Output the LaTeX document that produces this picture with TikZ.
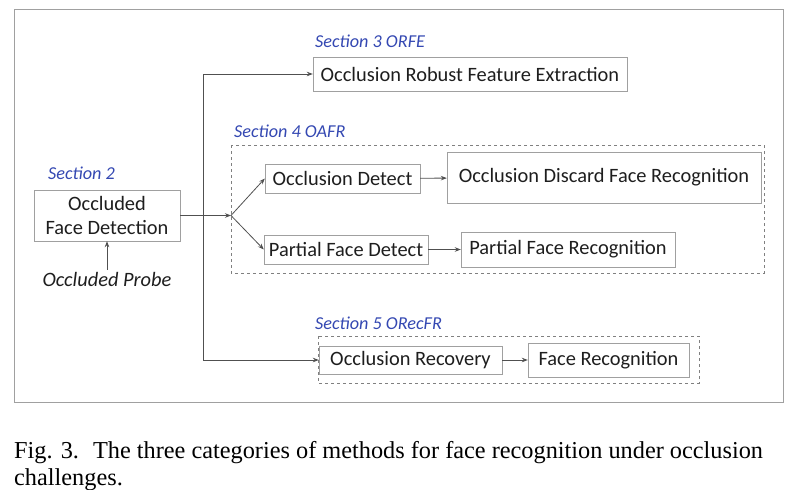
\documentclass[tikz,border=0pt]{standalone}
\usepackage{fontspec}
\setmainfont{Carlito}
\newfontfamily\capfont{Liberation Serif}
\usepackage{tikz}
\usetikzlibrary{arrows.meta}
\definecolor{secblue}{RGB}{52, 72, 178}
\definecolor{boxgray}{RGB}{160, 160, 160}
\definecolor{linegray}{RGB}{80, 80, 80}
\definecolor{txtgray}{RGB}{30, 30, 30}

\begin{document}
\begin{tikzpicture}[x=1pt,y=-1pt,
  >={Stealth[length=6pt,width=4.5pt]},
  procbox/.style={draw=boxgray,fill=white,rectangle,inner sep=0pt,text=txtgray,
    font=\fontsize{20.4}{24}\selectfont},
  seclabel/.style={anchor=west,inner sep=0pt,text=secblue,
    font=\itshape\fontsize{18.2}{21}\selectfont},
  groupbox/.style={draw=boxgray!80!black,dashed,thick},
  conn/.style={draw=linegray,thick,->}]
\useasboundingbox (0,0) rectangle (788,490);

% Outer frame
\draw[boxgray,thick] (14,9) rectangle (783,402);

% Dashed groups
\draw[groupbox] (231,145) rectangle (764,273);
\draw[groupbox] (318,336) rectangle (699,383);

% Section labels
\node[seclabel] (sec2) at (48,173) {Section 2};
\node[seclabel] (sec3) at (315,41) {Section 3 ORFE};
\node[seclabel] (sec4) at (234,131) {Section 4 OAFR};
\node[seclabel] (sec5) at (315,323) {Section 5 ORecFR};

% Boxes
\node[procbox,minimum width=146,minimum height=51,align=center] (fd) at (107,215.5)
  {Occluded\\Face Detection};
\node[procbox,minimum width=314,minimum height=34] (orfe) at (470,74)
  {Occlusion Robust Feature Extraction};
\node[procbox,minimum width=155,minimum height=29] (od) at (342.5,178.5)
  {Occlusion Detect};
\node[procbox,minimum width=314,minimum height=51] (odfr) at (604,177.5)
  {Occlusion Discard Face Recognition};
\node[procbox,minimum width=164,minimum height=29] (pfd) at (346,249.5)
  {Partial Face Detect};
\node[procbox,minimum width=214,minimum height=35] (pfr) at (568,249.5)
  {Partial Face Recognition};
\node[procbox,minimum width=183,minimum height=28] (orec) at (410.5,360)
  {Occlusion Recovery};
\node[procbox,minimum width=161,minimum height=34] (fr) at (608.5,360)
  {Face Recognition};

% Probe input
\node[text=txtgray,inner sep=2pt,font=\itshape\fontsize{20.4}{24}\selectfont] (probe) at (107,279)
  {Occluded Probe};

% Connectors
\coordinate (br) at (231,215.5);
\coordinate (jn) at (203,215.5);
\draw[conn] (probe.north) -- (fd.south);
\draw[conn] (fd.east) -- (br);
\draw[conn] (jn) |- (orfe.west);
\draw[conn] (jn) |- (orec.west);
\draw[conn] (br) -- (od.west);
\draw[conn] (br) -- (pfd.west);
\draw[conn] (od) -- (odfr);
\draw[conn] (pfd) -- (pfr);
\draw[conn] (orec) -- (fr);

% Caption
\node[anchor=base west,inner sep=0pt,font=\capfont\fontsize{24.3}{27}\selectfont] (cap1) at (14,458)
  {Fig. 3.\hspace{14pt}The three categories of methods for face recognition under occlusion};
\node[anchor=base west,inner sep=0pt,font=\capfont\fontsize{24.3}{27}\selectfont] (cap2) at (14,485)
  {challenges.};
\end{tikzpicture}
\end{document}
